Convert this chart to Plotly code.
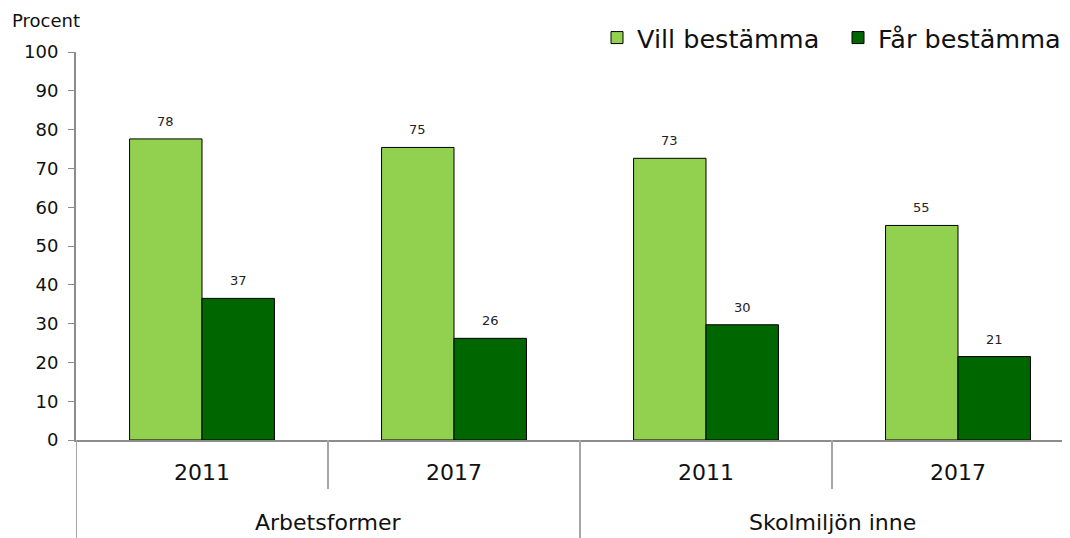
import plotly.graph_objects as go

groups = ["Arbetsformer", "Skolmiljön inne"]
years = ["2011", "2017"]
categories = ["Arbetsformer 2011", "Arbetsformer 2017", "Skolmiljön inne 2011", "Skolmiljön inne 2017"]
vill = [77.6, 75.4, 72.6, 55.3]
far = [36.5, 26.2, 29.7, 21.5]
vill_labels = ["78", "75", "73", "55"]
far_labels = ["37", "26", "30", "21"]
y_ticks = [0, 10, 20, 30, 40, 50, 60, 70, 80, 90, 100]

FONT = "DejaVu Sans"
OFF = 8  # page body margin offset
W, H = 1070 - OFF, 538 - OFF
L, R, T = 76 - OFF, 0, 52 - OFF
BASE = 440 - OFF          # y of x-axis within the figure
B = H - BASE
plot_h = H - T - B
plot_w = W - L - R
BAR_OFFSET = 0.575 / 4  # half of one bar width in category units


def py(screen_y):
    """paper y coordinate of a screen y position"""
    return (BASE - (screen_y - OFF)) / plot_h


def px(screen_x):
    return ((screen_x - OFF) - L) / plot_w


fig = go.Figure()
fig.add_trace(go.Bar(
    name="Vill bestämma", x=categories, y=vill,
    marker=dict(color="#92D050", line=dict(color="black", width=1)),
))
fig.add_trace(go.Bar(
    name="Får bestämma", x=categories, y=far,
    marker=dict(color="#006600", line=dict(color="black", width=1)),
))

# value labels above bars
for i, (v, t) in enumerate(zip(vill, vill_labels)):
    fig.add_annotation(x=i - BAR_OFFSET, y=v, xref="x", yref="y", text=t,
                       showarrow=False, yanchor="bottom", yshift=8,
                       font=dict(size=13, family=FONT, color="#222222"))
for i, (v, t) in enumerate(zip(far, far_labels)):
    fig.add_annotation(x=i + BAR_OFFSET, y=v, xref="x", yref="y", text=t,
                       showarrow=False, yanchor="bottom", yshift=8,
                       font=dict(size=13, family=FONT, color="#222222"))

# hierarchical x labels
for i, c in enumerate(categories):
    fig.add_annotation(x=i, y=py(472), xref="x", yref="paper", text=years[i % 2],
                       showarrow=False, yanchor="middle",
                       font=dict(size=22, family=FONT, color="#111111"))
for g_i, g in enumerate(groups):
    fig.add_annotation(x=2 * g_i + 0.5, y=py(522), xref="x", yref="paper", text=g,
                       showarrow=False, yanchor="middle",
                       font=dict(size=22, family=FONT, color="#111111"))

# dividers
for xb in [0.5, 2.5]:
    fig.add_shape(type="line", xref="x", yref="paper", x0=xb, x1=xb, y0=0, y1=py(489),
                  line=dict(color="#a6a6a6", width=2))
for xb in [-0.5, 1.5, 3.5]:
    fig.add_shape(type="line", xref="x", yref="paper", x0=xb, x1=xb, y0=0, y1=py(538),
                  line=dict(color="#a6a6a6", width=2))

fig.add_annotation(text="Procent", xref="paper", yref="paper",
                   x=px(10), y=py(20),
                   xanchor="left", yanchor="middle", showarrow=False,
                   font=dict(size=18, family=FONT, color="#111111"))

fig.update_layout(
    width=W, height=H,
    margin=dict(l=L, r=R, t=T, b=B, autoexpand=False),
    paper_bgcolor="white", plot_bgcolor="white",
    barmode="group", bargap=0.425, bargroupgap=0,
    font=dict(family=FONT, color="#111111"),
    showlegend=True,
    legend=dict(orientation="h", x=px(597), xanchor="left",
                y=py(38), yanchor="middle",
                font=dict(size=25.5, family=FONT, color="#111111"), itemwidth=30,
                entrywidth=196, entrywidthmode="pixels",
                bgcolor="rgba(0,0,0,0)", traceorder="normal"),
    xaxis=dict(
        type="category", categoryorder="array", categoryarray=categories,
        range=[-0.5, -0.5 + plot_w / 252],
        showline=True, linecolor="#8c8c8c", linewidth=2,
        showticklabels=False, ticks="", showgrid=False, zeroline=False,
        automargin=False,
    ),
    yaxis=dict(
        range=[0, 100], tickvals=y_ticks, ticks="outside", ticklen=6,
        tickcolor="#8c8c8c", tickwidth=1, showline=True, linecolor="#8c8c8c", linewidth=2,
        showgrid=False, zeroline=False, ticklabelstandoff=6,
        tickfont=dict(size=18, family=FONT, color="#111111"),
        automargin=False,
    ),
)
fig.write_html("out.html")
